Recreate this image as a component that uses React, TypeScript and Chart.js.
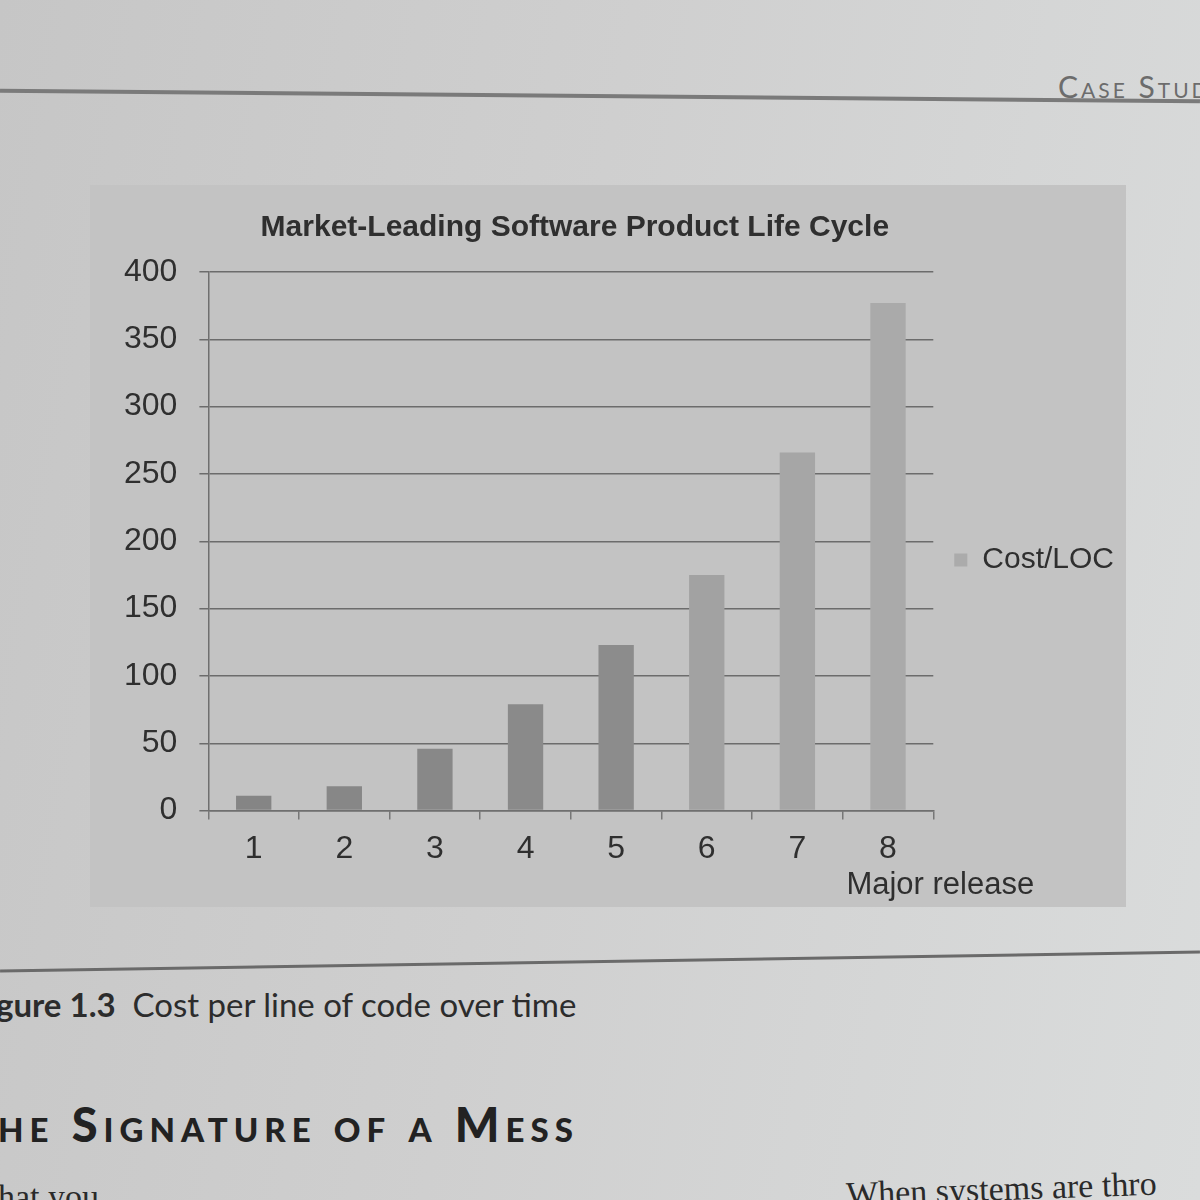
import { useEffect, useRef } from "react";
import Chart, { type ChartConfiguration, type Plugin } from "chart.js/auto";

const releases = ["1", "2", "3", "4", "5", "6", "7", "8"];
const costPerLoc = [11, 18, 46, 79, 123, 175, 266, 377];
const seriesLabel = "Cost/LOC";
const chartTitle = "Market-Leading Software Product Life Cycle";
const xAxisTitle = "Major release";

const SANS = "'Liberation Sans', Arial, sans-serif";
const INK = "#2f2f2f";

// bars look darker on the left of the photo, lighter to the right
const barShades = ["#858585", "#878787", "#888888", "#8a8a8a", "#8c8c8c", "#a2a2a2", "#a6a6a6", "#aaaaaa"];
const swatchColor = "#ababab";

// title centred over the plot area and the axis title hanging off the right end
const textPlugin: Plugin<"bar"> = {
  id: "chartTexts",
  afterDraw(chart) {
    const { ctx, chartArea } = chart;
    ctx.save();
    ctx.fillStyle = INK;
    ctx.textAlign = "center";
    ctx.textBaseline = "middle";
    ctx.font = `bold 30px ${SANS}`;
    ctx.fillText(chartTitle, (chartArea.left + chartArea.right) / 2 + 4, chartArea.top - 44);
    ctx.font = `31px ${SANS}`;
    ctx.fillText(xAxisTitle, chartArea.right + 7, chartArea.bottom + 75);
    ctx.restore();
  },
};

function CostChart() {
  const canvasRef = useRef<HTMLCanvasElement>(null);
  const chartRef = useRef<Chart | null>(null);

  useEffect(() => {
    if (!canvasRef.current) return;
    const ctx = canvasRef.current.getContext("2d");
    if (!ctx) return;

    const config: ChartConfiguration<"bar"> = {
      type: "bar",
      data: {
        labels: releases,
        datasets: [
          {
            label: seriesLabel,
            data: costPerLoc,
            backgroundColor: barShades,
            borderWidth: 0,
            categoryPercentage: 1,
            barPercentage: 0.39,
          },
        ],
      },
      options: {
        animation: false,
        responsive: true,
        maintainAspectRatio: false,
        layout: { padding: { top: 87, right: 0, bottom: 29, left: 12 } },
        plugins: {
          title: { display: false },
          legend: {
            position: "right",
            align: "start",
            // empty legend title only pushes the single entry down the side
            title: { display: true, text: " ", font: { size: 10 }, padding: { top: 240, bottom: 0 } },
            labels: {
              color: INK,
              font: { family: SANS, size: 30 },
              boxWidth: 13,
              boxHeight: 13,
              padding: 21,
              generateLabels: (chart) =>
                Chart.defaults.plugins.legend.labels
                  .generateLabels(chart)
                  .map((l) => ({ ...l, fillStyle: swatchColor, strokeStyle: swatchColor, lineWidth: 0 })),
            },
          },
          tooltip: { enabled: false },
        },
        scales: {
          x: {
            offset: true,
            grid: {
              offset: true,
              drawOnChartArea: false,
              drawTicks: true,
              tickLength: 9,
              color: "#777777",
              lineWidth: 1.5,
            },
            border: { display: true, color: "#6f6f6f", width: 1.5 },
            ticks: {
              color: INK,
              font: { family: SANS, size: 32 },
              padding: 10,
            },
          },
          y: {
            min: 0,
            max: 400,
            ticks: {
              stepSize: 50,
              color: INK,
              font: { family: SANS, size: 32 },
              padding: 22,
            },
            grid: {
              color: "#6c6c6c",
              lineWidth: 1.5,
              tickLength: 9,
            },
            border: { display: true, color: "#6f6f6f", width: 1.5 },
          },
        },
      },
      plugins: [textPlugin],
    };

    chartRef.current = new Chart(ctx, config);
    return () => {
      chartRef.current?.destroy();
      chartRef.current = null;
    };
  }, []);

  return (
    <>
      <div style={{ position: "absolute", left: 90, top: 185, width: 1036, height: 722, background: "#c3c3c3" }} />
      <div style={{ position: "absolute", left: 90, top: 185, width: 1034, height: 722 }}>
        <canvas ref={canvasRef} role="img" aria-label={chartTitle} />
      </div>
    </>
  );
}

export default function App() {
  return (
    <div
      style={{
        position: "fixed",
        left: 0,
        top: 0,
        width: 1200,
        height: 1200,
        overflow: "hidden",
        background: "linear-gradient(100deg, #c6c6c6 0%, #cfcfcf 45%, #dadcdc 100%)",
        fontFamily: "'Liberation Serif', serif",
      }}
    >
      <div
        style={{
          position: "absolute",
          left: 1058,
          top: 68,
          fontFamily: "Lato, 'Open Sans', sans-serif",
          fontSize: 30,
          letterSpacing: 3,
          color: "#6c6c6c",
          fontVariant: "small-caps",
          whiteSpace: "nowrap",
        }}
      >
        Case Study
      </div>
      <div style={{ position: "absolute", left: 0, top: 94, width: 1200, height: 4, background: "#7a7a7a", transform: "rotate(0.5deg)" }} />

      <CostChart />

      <div style={{ position: "absolute", left: 0, top: 960, width: 1200, height: 3, background: "#6a6a6a", transform: "rotate(-0.9deg)" }} />
      <div
        style={{
          position: "absolute",
          left: -4,
          top: 984,
          fontFamily: "Lato, 'Open Sans', sans-serif",
          fontSize: 33,
          color: "#2c2c2c",
          whiteSpace: "nowrap",
        }}
      >
        <b>gure 1.3</b>&nbsp; Cost per line of code over time
      </div>
      <div
        style={{
          position: "absolute",
          left: -2,
          top: 1096,
          fontFamily: "Lato, 'Open Sans', sans-serif",
          fontSize: 47,
          fontWeight: 900,
          letterSpacing: 6,
          color: "#222222",
          fontVariant: "small-caps",
          whiteSpace: "nowrap",
        }}
      >
        he Signature of a Mess
      </div>
      <div
        style={{
          position: "absolute",
          left: -2,
          top: 1178,
          fontSize: 34,
          color: "#2a2a2a",
          whiteSpace: "nowrap",
        }}
      >
        hat you
      </div>
      <div
        style={{
          position: "absolute",
          left: 846,
          top: 1170,
          fontSize: 34,
          color: "#2a2a2a",
          whiteSpace: "nowrap",
          transform: "rotate(-2deg)",
        }}
      >
        When systems are thro
      </div>
    </div>
  );
}
